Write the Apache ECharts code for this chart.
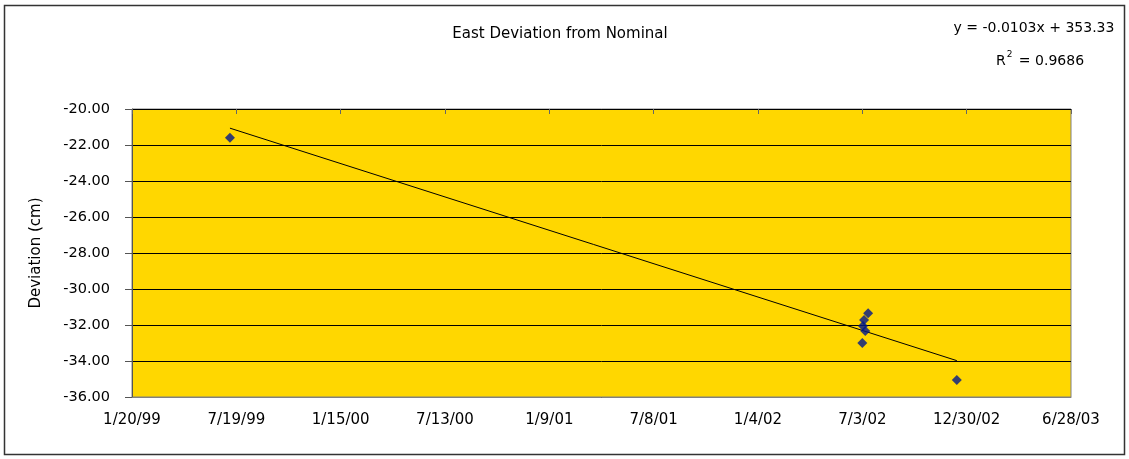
<!DOCTYPE html>
<html>
<head>
<meta charset="utf-8">
<script src="https://cdn.jsdelivr.net/npm/echarts@6/dist/echarts.min.js"></script>
<style>
  html, body { margin: 0; padding: 0; background: #ffffff; }
  #chart { width: 1129px; height: 459px; }
</style>
</head>
<body>
<div id="chart"></div>
<script>
// Survey observations: date (m/d/yy) and east deviation from nominal (cm)
const obsDates = ['7/8/99', '7/3/02', '7/4/02', '7/6/02', '7/8/02', '7/13/02', '12/13/02'];
const eastDeviation = [-21.6, -33.0, -32.06, -31.72, -32.33, -31.35, -35.06];

// Linear fit reported on the chart (x = spreadsheet date serial)
const trendSlope = -0.0103;
const trendIntercept = 353.33;
const trendText = 'y = -0.0103x + 353.33';
const rSquaredText = '0.9686';

// Axis tick labels
const xTickDates = ['1/20/99', '7/19/99', '1/15/00', '7/13/00', '1/9/01', '7/8/01', '1/4/02', '7/3/02', '12/30/02', '6/28/03'];
const yTicks = [-36, -34, -32, -30, -28, -26, -24, -22, -20];

const FONT = 'DejaVu Sans';

// m/d/yy -> spreadsheet serial day number (1900 date system)
function toSerial(s) {
  const [m, d, y] = s.split('/').map(Number);
  const year = y < 50 ? 2000 + y : 1900 + y;
  return Math.round((Date.UTC(year, m - 1, d) - Date.UTC(1899, 11, 30)) / 86400000);
}

const xMin = toSerial(xTickDates[0]);
const xMax = toSerial(xTickDates[xTickDates.length - 1]);
const xStep = toSerial(xTickDates[1]) - xMin;

const points = obsDates.map((d, i) => [toSerial(d), eastDeviation[i]]);
const xs = points.map(p => p[0]);
const fitX0 = Math.min(...xs), fitX1 = Math.max(...xs);
const fitLine = [fitX0, fitX1].map(x => [x, trendSlope * x + trendIntercept]);

const chart = echarts.init(document.getElementById('chart'), null, { renderer: 'canvas' });

chart.setOption({
  animation: false,
  backgroundColor: '#ffffff',
  textStyle: { fontFamily: FONT },
  grid: {
    left: 132, right: 58, top: 109, bottom: 62,
    show: true, backgroundColor: '#FFD700', borderColor: '#808080', borderWidth: 1
  },
  graphic: [
    {
      type: 'rect', silent: true, z: -1,
      shape: { x: 4.5, y: 5.5, width: 1120, height: 449 },
      style: { fill: null, stroke: '#333333', lineWidth: 1.5 }
    },
    {
      type: 'text', x: 560, y: 34,
      style: { text: 'East Deviation from Nominal', fill: '#000', font: '15px "' + FONT + '"', textAlign: 'center', textVerticalAlign: 'middle' }
    },
    {
      type: 'text', x: 1034, y: 28,
      style: { text: trendText, fill: '#000', font: '14px "' + FONT + '"', textAlign: 'center', textVerticalAlign: 'middle' }
    },
    {
      type: 'text', x: 1040, y: 59,
      style: {
        text: '{b|R}{s|2}{b| = ' + rSquaredText + '}',
        fill: '#000', textAlign: 'center', textVerticalAlign: 'middle',
        rich: {
          b: { fontFamily: FONT, fontSize: 14, fill: '#000', verticalAlign: 'bottom', lineHeight: 18 },
          s: { fontFamily: FONT, fontSize: 9, fill: '#000', verticalAlign: 'top', lineHeight: 18, padding: [0, 2, 8, 1] }
        }
      }
    }
  ],
  xAxis: [
    {
      type: 'value', position: 'bottom',
      min: xMin, max: xMax, interval: xStep,
      axisLine: { show: true, lineStyle: { color: '#808080', width: 1 } },
      axisTick: { show: false },
      splitLine: { show: false },
      axisLabel: {
        margin: 16, color: '#000', fontFamily: FONT, fontSize: 15,
        formatter: v => xTickDates[Math.round((v - xMin) / xStep)] || ''
      }
    },
    {
      type: 'value', position: 'top',
      min: xMin, max: xMax, interval: xStep,
      axisLine: { show: true, lineStyle: { color: '#000', width: 1 } },
      axisTick: { show: true, inside: true, length: 5, lineStyle: { color: '#666' } },
      axisLabel: { show: false },
      splitLine: { show: false }
    }
  ],
  yAxis: {
    type: 'value',
    min: yTicks[0], max: yTicks[yTicks.length - 1], interval: yTicks[1] - yTicks[0],
    name: 'Deviation (cm)', nameLocation: 'middle', nameGap: 88,
    nameTextStyle: { color: '#000', fontFamily: FONT, fontSize: 15 },
    axisLine: { show: true, lineStyle: { color: '#555', width: 1 } },
    axisTick: { show: true, length: 7, lineStyle: { color: '#555' } },
    splitLine: { show: true, lineStyle: { color: '#000', width: 1 } },
    axisLabel: {
      margin: 22, color: '#000', fontFamily: FONT, fontSize: 14.5,
      formatter: v => v.toFixed(2)
    }
  },
  series: [
    {
      type: 'line', data: fitLine, xAxisIndex: 0,
      showSymbol: false, symbol: 'none',
      lineStyle: { color: '#000', width: 1 }, z: 3
    },
    {
      type: 'scatter', data: points, xAxisIndex: 0,
      symbol: 'diamond', symbolSize: 10,
      itemStyle: { color: '#00168c' }, z: 4
    }
  ]
});
</script>
</body>
</html>
